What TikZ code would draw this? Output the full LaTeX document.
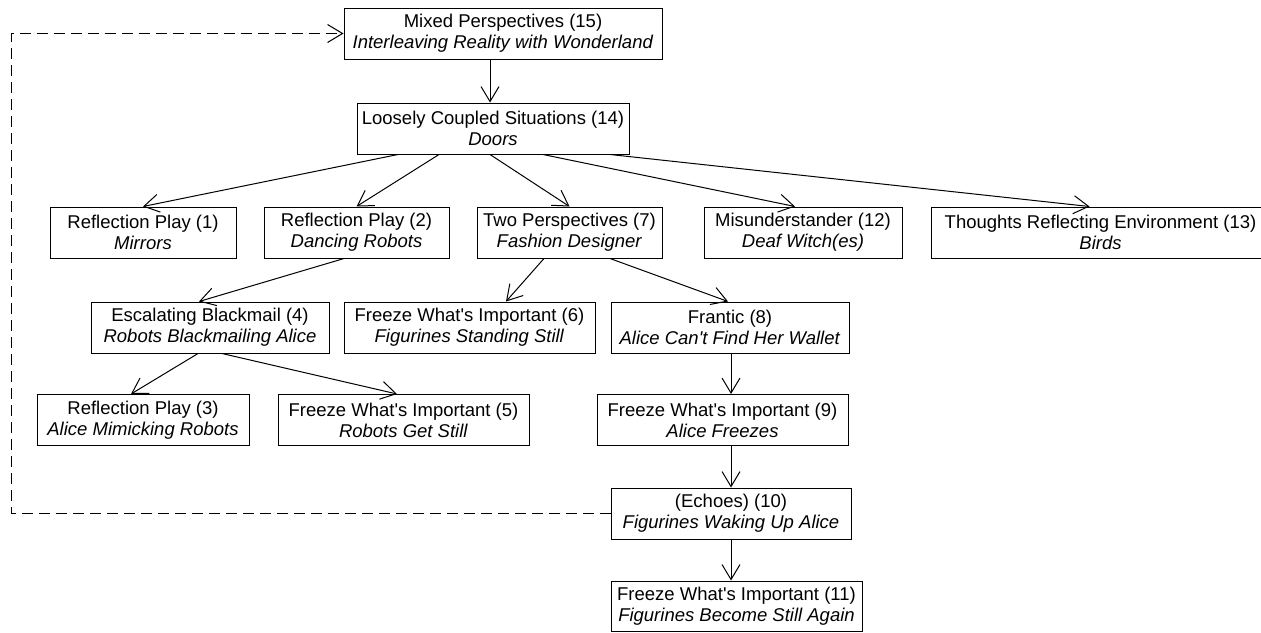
\documentclass[tikz,border=0pt]{standalone}
\usepackage{fontspec}
\newfontfamily\diagfont{Liberation Sans}
\usetikzlibrary{arrows.meta}
\begin{document}
\begin{tikzpicture}[x=1pt,y=-1pt,
  box/.style={draw, line width=1pt, inner sep=0pt, minimum height=51pt, align=center, font=\diagfont\fontsize{18.5}{21}\selectfont},
  link/.style={line width=1pt, -{Straight Barb[length=15pt,width=18pt]}},
  back/.style={link, dash pattern=on 11pt off 6pt}]
\useasboundingbox (0,0) rectangle (1261,632);
\node[box, minimum width=318pt] (n15) at (503,33.5) {Mixed Perspectives (15)\\\textit{Interleaving Reality with Wonderland}};
\node[box, minimum width=272pt] (n14) at (493,128.5) {Loosely Coupled Situations (14)\\\textit{Doors}};
\node[box, minimum width=186pt] (n1) at (143,232.5) {Reflection Play (1)\\\textit{Mirrors}};
\node[box, minimum width=185pt] (n2) at (356.5,232.5) {Reflection Play (2)\\\textit{Dancing Robots}};
\node[box, minimum width=185pt] (n7) at (569.5,232.5) {Two Perspectives (7)\\\textit{Fashion Designer}};
\node[box, minimum width=198pt] (n12) at (803,232.5) {Misunderstander (12)\\\textit{Deaf Witch(es)}};
\node[box, minimum width=339pt] (n13) at (1100.5,232.5) {Thoughts Reflecting Environment (13)\\\textit{Birds}};
\node[box, minimum width=238pt] (n4) at (210,327.5) {Escalating Blackmail (4)\\\textit{Robots Blackmailing Alice}};
\node[box, minimum width=251pt] (n6) at (469.5,327.5) {Freeze What's Important (6)\\\textit{Figurines Standing Still}};
\node[box, minimum width=238pt] (n8) at (730,327.5) {Frantic (8)\\\textit{Alice Can't Find Her Wallet}};
\node[box, minimum width=212pt] (n3) at (143,420) {Reflection Play (3)\\\textit{Alice Mimicking Robots}};
\node[box, minimum width=251pt] (n5) at (403.5,420) {Freeze What's Important (5)\\\textit{Robots Get Still}};
\node[box, minimum width=251pt] (n9) at (722.5,420) {Freeze What's Important (9)\\\textit{Alice Freezes}};
\node[box, minimum width=240pt] (n10) at (731,513.5) {(Echoes) (10)\\\textit{Figurines Waking Up Alice}};
\node[box, minimum width=251pt, minimum height=50pt] (n11) at (736.5,606) {Freeze What's Important (11)\\\textit{Figurines Become Still Again}};
\coordinate (c1) at (11,513.5);
\coordinate (c2) at (11,33.5);
\draw[link] ([xshift=-13pt]n15.south) -- ([xshift=-3pt]n14.north);
\draw[link] ([xshift=-95pt]n14.south) -- (n1.north);
\draw[link] ([xshift=-54pt]n14.south) -- (n2.north);
\draw[link] ([xshift=-3pt]n14.south) -- (n7.north);
\draw[link] ([xshift=50pt]n14.south) -- ([xshift=-8pt]n12.north);
\draw[link] ([xshift=117pt]n14.south) -- ([xshift=-11pt]n13.north);
\draw[link] ([xshift=-12.5pt]n2.south) -- ([xshift=-11pt]n4.north);
\draw[link] ([xshift=-25.5pt]n7.south) -- ([xshift=36.5pt]n6.north);
\draw[link] ([xshift=40.5pt]n7.south) -- ([xshift=-2pt]n8.north);
\draw[link] ([xshift=-12pt]n4.south) -- ([xshift=-12pt]n3.north);
\draw[link] ([xshift=12pt]n4.south) -- ([xshift=-6.5pt]n5.north);
\draw[link] ([xshift=1pt]n8.south) -- ([xshift=8.5pt]n9.north);
\draw[link] ([xshift=8.5pt]n9.south) -- (n10.north);
\draw[link] (n10.south) -- ([xshift=-5.5pt]n11.north);
\draw[back] (n10.west) -- (c1) -- (c2) -- (n15.west);
\end{tikzpicture}
\end{document}
